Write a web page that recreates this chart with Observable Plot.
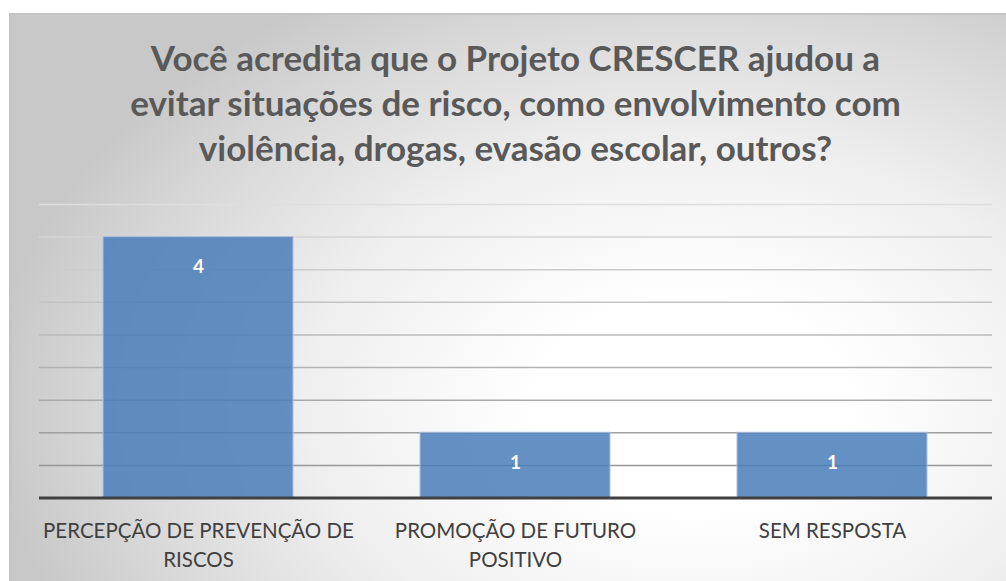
<!DOCTYPE html>
<html>
<head>
<meta charset="utf-8">
<script src="https://cdn.jsdelivr.net/npm/d3@7"></script>
<script src="https://cdn.jsdelivr.net/npm/@observablehq/plot@0.6"></script>
<style>
  html, body { margin: 0; padding: 0; background: #ffffff; width: 1006px; height: 581px; overflow: hidden; }
  #frame {
    position: absolute; left: 9px; top: 13px; width: 1020px; height: 600px;
    border-left: 3px solid #c4c4c4; border-top: 2px solid #c4c4c4;
    background: radial-gradient(ellipse 700px 480px at 680px 390px, #ffffff 0%, #ffffff 22%, #efefef 55%, #d6d6d6 85%, #c8c8c8 100%);
  }
  #title {
    position: absolute; left: 0; top: 35px; width: 1031px; text-align: center;
    font-family: Lato, "Open Sans", sans-serif; font-weight: 700; font-size: 35px; line-height: 45px; color: #595959;
  }
  #chart { position: absolute; left: 0; top: 190px; }
</style>
</head>
<body>
<div id="frame"></div>
<div id="title">Você acredita que o Projeto CRESCER ajudou a<br>evitar situações de risco, como envolvimento com<br>violência, drogas, evasão escolar, outros?</div>
<div id="chart"></div>
<script>
const categories = ["PERCEPÇÃO DE PREVENÇÃO DE RISCOS", "PROMOÇÃO DE FUTURO POSITIVO", "SEM RESPOSTA"];
const tickLabels = ["PERCEPÇÃO DE PREVENÇÃO DE\nRISCOS", "PROMOÇÃO DE FUTURO\nPOSITIVO", "SEM RESPOSTA"];
const values = [4, 1, 1];
const gridTicks = [0.5, 1, 1.5, 2, 2.5, 3, 3.5, 4, 4.5];

const data = categories.map((c, i) => ({category: c, value: values[i]}));
const labelOf = new Map(categories.map((c, i) => [c, tickLabels[i]]));
const gridColor = d3.interpolateRgb("#8e8e8e", "#dedede");

const chart = Plot.plot({
  width: 1006,
  height: 391,
  marginLeft: 39,
  marginRight: 14,
  marginTop: 14,
  marginBottom: 83.5,
  style: {background: "transparent", fontFamily: "Lato, 'Open Sans', sans-serif"},
  x: {domain: categories, paddingInner: 0.4, paddingOuter: 0.2, label: null},
  y: {domain: [0, 4.5], label: null, axis: null},
  marks: [
    Plot.ruleY(gridTicks, {stroke: d => gridColor(d / 4.5), strokeWidth: 1.5}),
    Plot.barY(data, {x: "category", y: "value", fill: "#4a7cba", fillOpacity: 0.85, stroke: "#a9c1e0", strokeWidth: 1}),
    Plot.ruleY([0], {stroke: "#404040", strokeWidth: 3}),
    Plot.text(data, {x: "category", y: "value", text: d => String(d.value), dy: 30, fill: "#ffffff", fontWeight: "bold", fontSize: 19}),
    Plot.axisX({tickSize: 0, tickPadding: 20, fontSize: 20.5, lineHeight: 1.4, fill: "#404040", tickFormat: d => labelOf.get(d), label: null})
  ]
});
document.getElementById("chart").appendChild(chart);
</script>
</body>
</html>
